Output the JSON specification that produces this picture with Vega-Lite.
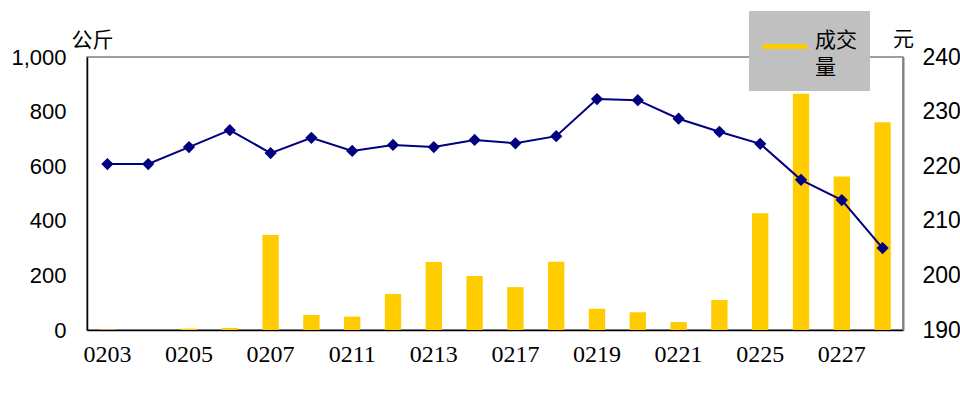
{
  "$schema": "https://vega.github.io/schema/vega-lite/v6.json",
  "width": 816,
  "height": 273,
  "autosize": {"type": "none"},
  "padding": {"left": 87, "top": 57, "right": 57, "bottom": 71},
  "background": "white",
  "config": {
    "view": {"stroke": "#808080", "strokeWidth": 1.5},
    "font": "Liberation Sans",
    "style": {"guide-label": {"lineHeight": 27}}
  },
  "data": {
    "values": [
      {"date": "0203", "vol": 2, "price": 220.4},
      {"date": "0204", "vol": 0, "price": 220.4},
      {"date": "0205", "vol": 5, "price": 223.5},
      {"date": "0206", "vol": 7, "price": 226.6},
      {"date": "0207", "vol": 348, "price": 222.4},
      {"date": "0210", "vol": 55, "price": 225.2},
      {"date": "0211", "vol": 49, "price": 222.8},
      {"date": "0212", "vol": 132, "price": 223.9},
      {"date": "0213", "vol": 249, "price": 223.5},
      {"date": "0214", "vol": 198, "price": 224.8},
      {"date": "0217", "vol": 157, "price": 224.2},
      {"date": "0218", "vol": 250, "price": 225.5},
      {"date": "0219", "vol": 78, "price": 232.3},
      {"date": "0220", "vol": 65, "price": 232.1},
      {"date": "0221", "vol": 29, "price": 228.7},
      {"date": "0224", "vol": 110, "price": 226.3},
      {"date": "0225", "vol": 428, "price": 224.1},
      {"date": "0226", "vol": 865, "price": 217.5},
      {"date": "0227", "vol": 562, "price": 213.8},
      {"date": "0228", "vol": 761, "price": 205.0}
    ]
  },
  "encoding": {
    "x": {
      "field": "date",
      "type": "nominal",
      "sort": null,
      "scale": {"paddingInner": 0.6, "paddingOuter": 0.3},
      "axis": {
        "title": null,
        "values": ["0203", "0205", "0207", "0211", "0213", "0217", "0219", "0221", "0225", "0227"],
        "labelAngle": 0,
        "labelFont": "Liberation Serif",
        "labelFontSize": 24,
        "labelColor": "black",
        "labelPadding": 12,
        "ticks": false,
        "domainColor": "black",
        "domainWidth": 1.5
      }
    }
  },
  "layer": [
    {
      "mark": {"type": "bar", "color": "#FFCC00"},
      "encoding": {
        "y": {
          "field": "vol",
          "type": "quantitative",
          "scale": {"domain": [0, 1000]},
          "axis": {
            "title": "公斤",
            "titleFont": "Noto Sans CJK SC",
            "titleFontSize": 21,
            "titleFontWeight": "normal",
            "titleColor": "black",
            "titleAngle": 0,
            "titleAlign": "center",
            "titleBaseline": "middle",
            "titleX": 5,
            "titleY": -17,
            "values": [0, 200, 400, 600, 800, 1000],
            "format": ",.0f",
            "grid": false,
            "ticks": false,
            "labelFontSize": 22,
            "labelColor": "black",
            "labelPadding": 21,
            "domainColor": "black",
            "domainWidth": 1.5
          }
        },
        "color": {
          "datum": "成交量",
          "scale": {"range": ["#FFCC00"]},
          "legend": {
            "title": null,
            "orient": "none",
            "legendX": 662,
            "legendY": -46,
            "fillColor": "#C0C0C0",
            "padding": 13,
            "symbolType": "M-1,-0.11H1V0.11H-1Z",
            "symbolSize": 2025,
            "symbolStrokeWidth": 0,
            "symbolOpacity": 1,
            "labelExpr": "['成交', '量']",
            "labelFont": "Noto Sans CJK SC",
            "labelFontSize": 21,
            "labelColor": "black",
            "labelBaseline": "alphabetic",
            "labelOffset": 8,
            "labelLimit": 0
          }
        }
      }
    },
    {
      "mark": {"type": "line", "color": "#000080", "strokeWidth": 2},
      "encoding": {
        "y": {
          "field": "price",
          "type": "quantitative",
          "scale": {"domain": [190, 240]},
          "axis": {
            "orient": "right",
            "title": "元",
            "titleFont": "Noto Sans CJK SC",
            "titleFontSize": 21,
            "titleFontWeight": "normal",
            "titleColor": "black",
            "titleAngle": 0,
            "titleAlign": "center",
            "titleBaseline": "middle",
            "titleX": 0,
            "titleY": -18,
            "values": [190, 200, 210, 220, 230, 240],
            "grid": false,
            "ticks": false,
            "labelFontSize": 23,
            "labelColor": "black",
            "labelPadding": 19,
            "domainColor": "#808080",
            "domainWidth": 2
          }
        }
      }
    },
    {
      "mark": {"type": "point", "shape": "diamond", "filled": true, "color": "#000080", "size": 150, "opacity": 1},
      "encoding": {
        "y": {"field": "price", "type": "quantitative", "scale": {"domain": [190, 240]}, "axis": null}
      }
    }
  ],
  "resolve": {"scale": {"y": "independent"}}
}
